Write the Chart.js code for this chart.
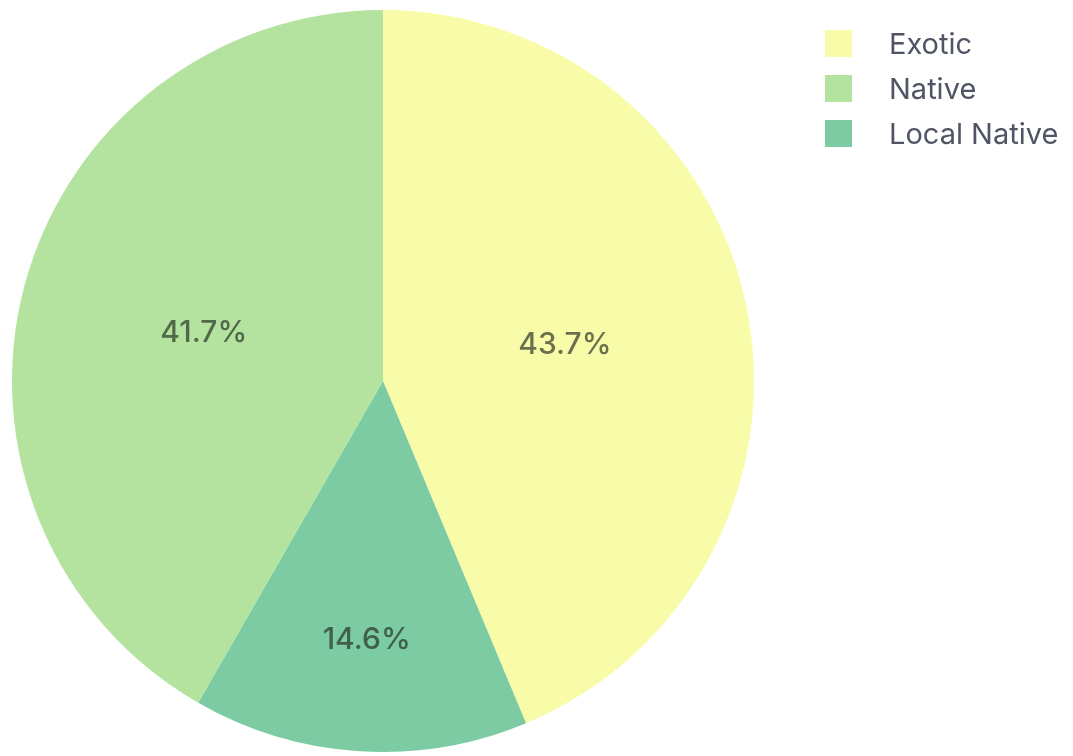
<!DOCTYPE html>
<html>
<head>
<meta charset="utf-8">
<script src="https://cdn.jsdelivr.net/npm/chart.js@4.4.1/dist/chart.umd.min.js"></script>
<style>
  html, body { margin: 0; padding: 0; background: #ffffff; }
  #wrap { width: 1073px; height: 756px; position: relative; }
</style>
</head>
<body>
<div id="wrap"><canvas id="chart" width="1073" height="756"></canvas></div>
<script>
// Slices in clockwise order from 12 o'clock
const categories = ['Exotic', 'Local Native', 'Native'];
const shares = [43.7, 14.6, 41.7];
const sliceColors = ['#f8fca9', '#7ccba3', '#b3e39f'];
// Order in which the legend lists the categories
const legendOrder = ['Exotic', 'Native', 'Local Native'];

// Where each percentage sits along its slice, as a fraction of the radius
const labelRadiusFraction = [0.5, 0.7, 0.5];

const sliceLabels = {
  id: 'sliceLabels',
  afterDatasetsDraw(chart) {
    const ctx = chart.ctx;
    const meta = chart.getDatasetMeta(0);
    const values = chart.data.datasets[0].data;
    const total = values.reduce((a, b) => a + b, 0);
    ctx.save();
    ctx.font = '500 30px Inter, "Open Sans", sans-serif';
    ctx.fillStyle = 'rgba(35, 45, 35, 0.68)';
    ctx.textAlign = 'center';
    ctx.textBaseline = 'middle';
    meta.data.forEach((arc, i) => {
      const p = arc.getProps(['x', 'y', 'startAngle', 'endAngle', 'outerRadius'], true);
      const mid = (p.startAngle + p.endAngle) / 2;
      const d = p.outerRadius * labelRadiusFraction[i];
      const pct = (values[i] / total * 100).toFixed(1) + '%';
      ctx.fillText(pct, p.x + Math.cos(mid) * d, p.y + Math.sin(mid) * d);
    });
    ctx.restore();
  }
};

const sideLegend = {
  id: 'sideLegend',
  afterDraw(chart) {
    const ctx = chart.ctx;
    const ds = chart.data.datasets[0];
    const x0 = 825, y0 = 30, box = 27, gap = 45, textX = 889;
    ctx.save();
    ctx.font = '29px Inter, "Open Sans", sans-serif';
    ctx.textBaseline = 'middle';
    ctx.textAlign = 'left';
    legendOrder.forEach((name, k) => {
      const i = chart.data.labels.indexOf(name);
      const y = y0 + k * gap;
      ctx.fillStyle = ds.backgroundColor[i];
      ctx.fillRect(x0, y, box, box);
      ctx.fillStyle = '#4f5564';
      ctx.fillText(name, textX, y + box / 2 + 2);
    });
    ctx.restore();
  }
};

new Chart(document.getElementById('chart'), {
  type: 'pie',
  data: {
    labels: categories,
    datasets: [{
      data: shares,
      backgroundColor: sliceColors,
      borderWidth: 0
    }]
  },
  options: {
    responsive: false,
    animation: false,
    layout: { padding: { left: 12, top: 10, right: 319, bottom: 4 } },
    plugins: {
      legend: { display: false },
      tooltip: { enabled: false }
    }
  },
  plugins: [sliceLabels, sideLegend]
});
</script>
</body>
</html>
